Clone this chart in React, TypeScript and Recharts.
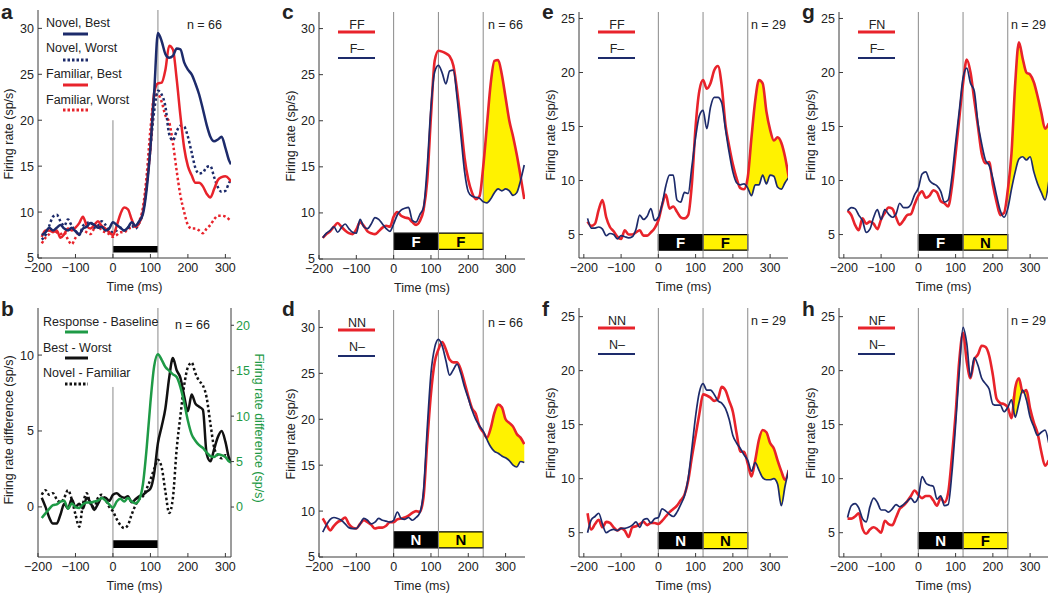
import React from "react";
import {
  ComposedChart, Line, Area,
  XAxis, YAxis, ReferenceLine, ReferenceArea,
} from "recharts";

const RED = "#e8232b";
const NAVY = "#1d2b6b";
const GREEN = "#1e9a46";
const YELLOW = "#fff200";
const GRAY = "#8a8a8a";
const AXIS = "#3a3a3a";
const TEXT = "#222";
const FONT = '"Liberation Sans", Arial, Helvetica, sans-serif';
const FS = 12.5;

// time grids (ms)
const TIME_AB = [-190, -180, -170, -160, -150, -140, -130, -120, -110, -100, -90, -80, -70, -60, -50, -40, -30, -20, -10, 0, 10, 20, 30, 40, 50, 60, 70, 80, 90, 100, 110, 120, 130, 140, 150, 160, 170, 180, 190, 200, 210, 220, 230, 240, 250, 260, 270, 280, 290, 300, 310, 315];
const TIME_CH = [-190, -180, -170, -160, -150, -140, -130, -120, -110, -100, -90, -80, -70, -60, -50, -40, -30, -20, -10, 0, 10, 20, 30, 40, 50, 60, 70, 80, 90, 100, 110, 120, 130, 140, 150, 160, 170, 180, 190, 200, 210, 220, 230, 240, 250, 260, 270, 280, 290, 300, 310, 320, 330, 340, 350];
const X_TICKS = [-200, -100, 0, 100, 200, 300];

// panel a (sp/s)
const A_NOVEL_BEST = [7.5, 7.8, 8.3, 8.0, 8.3, 8.6, 8.2, 8.0, 8.3, 7.9, 7.6, 8.2, 8.4, 8.8, 8.6, 8.3, 8.4, 8.0, 8.2, 8.9, 8.6, 8.3, 8.0, 8.3, 8.9, 8.5, 9.0, 9.8, 12.5, 17.0, 23.0, 29.5, 28.6, 27.2, 26.8, 27.0, 27.8, 27.7, 26.3, 25.5, 25.0, 24.0, 22.8, 21.2, 19.5, 18.2, 17.7, 17.9, 18.2, 17.0, 15.6, 15.2];
const A_NOVEL_WORST = [7.0, 7.5, 8.5, 9.5, 9.7, 9.0, 8.5, 9.2, 8.5, 8.0, 7.5, 8.5, 8.8, 8.9, 8.3, 8.5, 9.0, 8.6, 8.0, 7.8, 8.0, 8.3, 8.0, 8.3, 8.5, 8.2, 8.8, 10.0, 13.0, 17.0, 21.0, 23.2, 22.8, 21.5, 18.5, 17.8, 18.8, 19.4, 19.3, 18.2, 16.5, 14.8, 14.2, 14.3, 14.9, 15.0, 13.8, 12.7, 12.2, 12.3, 13.2, 13.5];
const A_FAM_BEST = [7.3, 8.0, 8.0, 7.8, 8.0, 7.2, 7.6, 8.2, 8.0, 8.3, 8.8, 9.5, 8.5, 8.2, 8.6, 9.0, 8.5, 8.2, 7.8, 7.5, 8.5, 9.8, 10.5, 10.3, 9.2, 8.4, 8.8, 10.0, 13.0, 17.0, 23.0, 24.0, 24.1, 25.5, 28.1, 27.7, 24.5, 20.5, 17.0, 15.0, 14.0, 13.2, 13.2, 12.8, 12.0, 11.6, 12.5, 13.5, 13.8, 13.9, 13.6, 13.3];
const A_FAM_WORST = [6.6, 7.2, 7.6, 8.0, 7.8, 7.6, 7.8, 7.0, 6.5, 7.2, 7.8, 8.0, 7.8, 7.6, 8.2, 8.5, 8.0, 7.8, 7.6, 7.3, 7.5, 7.8, 7.8, 8.2, 8.3, 8.5, 9.0, 10.5, 14.0, 19.0, 22.5, 22.8, 22.0, 20.5, 19.8, 17.5, 14.5, 11.8, 10.0, 8.6, 8.2, 8.2, 8.0, 7.7, 8.2, 8.6, 9.2, 9.6, 9.6, 9.5, 9.2, 9.0];

// panel b (differences, sp/s); response-baseline is on the right axis
const B_RESP = [-1.2, -0.7, -0.2, 0.2, 0.3, 0.6, 0.7, -0.2, 0.4, 0.0, -0.1, 0.3, 0.5, 0.5, 0.6, 0.7, 1.0, 0.7, 0.3, -0.1, 0.6, 0.9, 0.6, 1.0, 0.6, 0.4, 0.8, 2.5, 6.5, 11.5, 15.5, 16.8, 16.2, 15.4, 15.0, 14.6, 14.3, 13.2, 11.5, 9.5, 8.0, 7.3, 6.8, 6.5, 6.0, 5.6, 5.5, 5.8, 5.7, 5.5, 5.0, 4.9];
const B_BEST_WORST = [0.6, 0.0, -0.7, -1.1, -1.1, -0.5, 0.2, -0.1, 0.5, 0.0, 0.2, -0.1, 0.6, 0.3, -0.2, 0.2, 0.6, 0.6, 0.4, 0.8, 0.9, 0.7, 0.6, 0.7, 0.3, 0.5, 0.7, 0.8, 1.0, 1.2, 2.2, 4.2, 5.3, 6.5, 8.5, 9.8, 9.0, 8.5, 7.3, 6.3, 7.4, 6.8, 6.6, 6.4, 3.5, 3.0, 3.8, 4.6, 5.0, 4.3, 3.2, 3.0];
const B_NOV_FAM = [0.8, 1.1, 0.8, 0.9, 0.5, 0.3, 0.6, 1.1, 0.5, -0.5, -1.3, 0.2, 0.9, 0.2, 0.0, 0.6, 0.8, 0.5, 0.0, -0.3, -0.8, -1.2, -1.4, -1.2, -0.5, 0.1, 0.5, 0.7, 1.2, 1.8, 2.5, 3.1, 2.6, 1.0, -0.4, 0.6, 3.8, 6.0, 8.0, 9.2, 9.5, 8.8, 8.3, 8.0, 7.2, 5.5, 3.9, 3.4, 3.2, 3.4, 3.2, 3.1];

// panels c-h: red = two-stimulus trace, navy = single-stimulus trace
const C_RED = [7.3, 7.7, 8.0, 8.5, 8.9, 8.5, 8.1, 7.8, 7.7, 8.2, 9.0, 8.6, 8.0, 7.8, 7.7, 8.0, 8.4, 8.6, 8.5, 9.6, 10.1, 9.7, 9.5, 9.4, 9.0, 8.7, 9.1, 10.3, 13.5, 20.5, 26.5, 27.6, 27.5, 27.3, 27.0, 26.0, 23.3, 19.8, 16.0, 13.6, 12.2, 11.5, 11.8, 15.0, 19.5, 24.0, 26.5, 26.6, 25.0, 22.5, 20.0, 18.3, 16.3, 14.0, 11.5];
const C_NAVY = [7.3, 7.8, 8.1, 8.5, 7.9, 8.4, 8.8, 8.3, 7.9, 7.8, 9.3, 8.5, 8.3, 8.8, 9.5, 9.3, 8.8, 8.3, 8.0, 8.8, 9.8, 10.3, 10.5, 10.6, 9.2, 9.0, 9.8, 10.6, 15.0, 21.5, 25.3, 26.0, 25.2, 24.0, 25.4, 25.5, 22.5, 18.5, 14.5, 12.3, 11.8, 11.7, 11.6, 11.2, 11.1, 11.5, 12.2, 12.6, 12.4, 12.6, 12.4, 11.9, 12.2, 13.5, 15.2];
const D_RED = [9.2, 8.5, 7.9, 8.4, 8.8, 9.0, 9.3, 8.6, 8.2, 8.1, 8.6, 9.0, 8.8, 8.5, 8.1, 8.2, 8.2, 8.4, 8.8, 8.8, 9.1, 9.2, 9.3, 9.5, 9.8, 10.0, 9.9, 11.5, 17.5, 22.8, 26.2, 27.6, 28.4, 27.6, 26.5, 26.2, 26.2, 25.4, 24.0, 22.5, 21.2, 20.6, 19.2, 18.6, 18.0, 19.0, 20.7, 21.6, 21.3, 20.0, 19.6, 19.2, 18.4, 18.0, 17.3];
const D_NAVY = [7.7, 8.5, 9.1, 9.3, 9.2, 9.0, 8.6, 8.2, 8.1, 8.1, 8.6, 9.2, 9.0, 8.6, 8.8, 9.2, 9.0, 8.9, 8.8, 9.0, 9.9, 9.2, 9.1, 9.3, 9.0, 9.3, 9.8, 12.2, 19.0, 25.0, 27.8, 28.7, 28.0, 26.4, 24.8, 25.4, 26.0, 25.0, 23.5, 22.3, 21.0, 20.0, 19.3, 18.7, 17.8, 17.0, 16.5, 16.3, 16.0, 15.8, 15.5, 15.0, 14.8, 15.4, 15.3];
const E_RED = [6.2, 5.8, 6.0, 7.3, 8.2, 6.6, 5.7, 5.3, 4.8, 4.6, 5.4, 5.0, 5.0, 5.2, 5.4, 4.9, 4.9, 5.2, 5.6, 6.3, 7.7, 8.7, 7.4, 7.6, 7.1, 6.6, 6.5, 6.8, 9.7, 15.0, 18.3, 19.3, 18.5, 19.0, 20.2, 20.6, 18.8, 15.2, 13.2, 11.5, 10.2, 9.3, 9.2, 10.3, 14.0, 17.4, 19.3, 19.0, 16.4, 14.7, 13.7, 14.0, 13.5, 12.2, 10.3];
const E_NAVY = [6.5, 5.6, 5.6, 5.7, 5.5, 4.9, 5.1, 5.0, 4.6, 4.9, 4.8, 4.7, 4.8, 5.5, 6.8, 6.4, 6.7, 7.4, 6.3, 6.6, 7.8, 9.5, 10.5, 10.5, 8.2, 8.0, 8.9, 8.8, 11.3, 14.0, 16.0, 16.5, 14.8, 16.8, 17.7, 17.7, 17.2, 14.8, 12.6, 10.8, 9.8, 9.6, 9.7, 9.3, 8.6, 9.6, 9.6, 10.5, 9.7, 10.5, 10.4, 9.4, 9.2, 9.8, 10.3];
const F_RED = [6.8, 5.3, 5.8, 6.2, 5.5, 6.0, 5.9, 5.5, 5.2, 5.4, 5.2, 4.6, 5.5, 5.6, 5.8, 6.0, 5.7, 5.9, 5.9, 5.8, 6.1, 6.5, 6.9, 7.2, 7.5, 8.0, 8.5, 9.8, 12.0, 14.0, 16.0, 17.8, 17.7, 17.5, 17.2, 17.4, 18.5, 18.2, 17.2, 16.2, 14.2, 12.5, 12.5, 11.4, 10.2, 11.7, 13.6, 14.5, 14.3, 13.3, 12.8, 11.7, 10.7, 9.9, 10.8];
const F_NAVY = [5.0, 6.2, 6.5, 6.8, 5.8, 5.0, 5.2, 5.3, 5.2, 5.4, 5.4, 5.5, 5.7, 6.0, 5.5, 6.2, 6.3, 5.9, 6.3, 6.4, 7.2, 7.0, 6.7, 6.5, 6.9, 7.6, 8.4, 10.0, 12.8, 15.8, 18.0, 18.8, 18.2, 18.2, 17.8, 17.2, 17.0, 16.5, 15.5, 14.0, 13.3, 12.8, 12.2, 11.7, 10.7, 11.5, 10.8, 10.1, 9.9, 9.9, 10.0, 9.5, 7.5, 9.3, 10.8];
const G_RED = [7.2, 6.8, 5.9, 5.4, 6.5, 6.0, 6.2, 6.0, 5.5, 6.4, 7.0, 7.5, 7.4, 6.6, 5.9, 6.3, 6.8, 6.9, 7.8, 8.6, 9.0, 8.4, 8.6, 9.1, 8.9, 8.1, 7.9, 7.6, 9.4, 12.5, 15.8, 19.0, 21.2, 20.0, 17.5, 15.0, 12.5, 11.6, 11.7, 9.6, 8.0, 6.8, 7.0, 9.1, 12.5, 19.0, 22.8, 21.3, 20.0, 19.8, 19.1, 17.8, 16.3, 14.8, 15.3];
const G_NAVY = [7.2, 7.5, 7.4, 6.8, 6.3, 5.2, 5.5, 6.6, 7.3, 6.4, 7.3, 6.9, 6.6, 6.9, 7.9, 7.5, 7.5, 7.8, 8.7, 9.3, 10.6, 10.8, 10.0, 9.7, 9.5, 9.0, 8.0, 8.2, 10.3, 13.5, 16.5, 19.5, 20.4, 19.0, 18.3, 15.3, 13.4, 11.9, 11.4, 10.2, 8.6, 7.2, 6.6, 7.4, 9.2, 10.8, 12.0, 12.2, 11.9, 12.2, 10.8, 9.7, 8.9, 8.2, 9.9];
const H_RED = [6.3, 6.3, 6.5, 6.8, 5.4, 4.9, 5.3, 5.5, 5.3, 5.0, 6.1, 5.8, 5.7, 6.4, 7.2, 7.5, 7.9, 8.4, 8.9, 8.5, 8.2, 8.4, 8.4, 8.0, 7.5, 8.2, 7.8, 8.7, 12.0, 16.0, 21.0, 23.5, 20.8, 19.3, 21.0, 21.5, 22.3, 22.2, 21.4, 19.6, 17.4, 17.0, 16.9, 16.6, 15.6, 18.4, 19.3, 18.0, 18.2, 16.5, 15.2, 14.2, 12.5, 11.2, 11.7];
const H_NAVY = [6.4, 7.5, 7.7, 7.3, 6.3, 6.0, 7.4, 8.2, 7.8, 7.1, 7.1, 6.9, 7.2, 7.6, 7.4, 7.6, 7.9, 8.2, 7.8, 8.3, 10.2, 9.6, 9.4, 9.3, 8.1, 8.4, 7.5, 7.6, 10.5, 15.0, 20.0, 24.0, 22.5, 19.4, 21.2, 20.5, 19.3, 18.8, 18.3, 16.9, 16.8, 16.8, 16.2, 16.6, 17.3, 15.7, 17.0, 18.2, 17.3, 15.7, 14.8, 14.0, 14.3, 14.5, 13.3];

function fmtTick(v: number) {
  return v < 0 ? `\u2212${-v}` : `${v}`;
}

const xAxisCommon = {
  dataKey: "t",
  type: "number" as const,
  ticks: X_TICKS,
  interval: 0 as const,
  allowDataOverflow: true,
  tickFormatter: fmtTick,
  height: 37,
  stroke: AXIS,
  tickSize: -4,
  tickMargin: 9,
  tick: { fill: TEXT, fontSize: FS },
  label: { value: "Time (ms)", position: "insideBottom" as const, offset: 4, fill: TEXT, fontSize: FS },
};

function Txt({ x, y, children, size = FS, color = TEXT, anchor = "start", bold = false, rot = 0 }: {
  x: number; y: number; children: React.ReactNode; size?: number; color?: string;
  anchor?: "start" | "middle" | "end"; bold?: boolean; rot?: number;
}) {
  const tx = anchor === "start" ? "0" : anchor === "middle" ? "-50%" : "-100%";
  return (
    <div style={{
      position: "absolute", left: x, top: y, whiteSpace: "nowrap", lineHeight: 1,
      fontSize: size, color, fontWeight: bold ? 700 : 400,
      transform: `translate(${tx}, -50%) rotate(${rot}deg)`,
    }}>
      {children}
    </div>
  );
}

function Swatch({ x1, x2, y, color, width, dash }: {
  x1: number; x2: number; y: number; color: string; width: number; dash?: string;
}) {
  return (
    <svg style={{ position: "absolute", left: x1, top: y - 3, overflow: "visible" }} width={x2 - x1} height={6}>
      <line x1={0} y1={3} x2={x2 - x1} y2={3} stroke={color} strokeWidth={width} strokeDasharray={dash} />
    </svg>
  );
}

function PanelA() {
  const rows = TIME_AB.map((t, i) => ({
    t,
    nb: A_NOVEL_BEST[i], nw: A_NOVEL_WORST[i],
    fb: A_FAM_BEST[i], fw: A_FAM_WORST[i],
  }));
  return (
    <div style={{ position: "absolute", left: 0, top: 0 }}>
      <ComposedChart width={247} height={295} data={rows} margin={{ top: 10, right: 16, bottom: 0, left: 0 }}>
        <XAxis {...xAxisCommon} domain={[-200, 315]} />
        <YAxis type="number" domain={[5, 32]} ticks={[5, 10, 15, 20, 25, 30]} interval={0} allowDataOverflow
          width={38} stroke={AXIS} tickSize={-4} tickMargin={8} tick={{ fill: TEXT, fontSize: FS }} />
        <ReferenceLine segment={[{ x: 0, y: 5 }, { x: 0, y: 20 }]} stroke={GRAY} />
        <ReferenceLine x={120} stroke={GRAY} />
        <ReferenceArea x1={0} x2={120} y1={5.6} y2={6.3} fill="#000" fillOpacity={1} stroke="none" />
        <Line dataKey="fw" type="monotone" stroke={RED} strokeWidth={2.5} strokeDasharray="2.5 2.5" dot={false} activeDot={false} isAnimationActive={false} />
        <Line dataKey="nw" type="monotone" stroke={NAVY} strokeWidth={2.5} strokeDasharray="2.5 2.5" dot={false} activeDot={false} isAnimationActive={false} />
        <Line dataKey="fb" type="monotone" stroke={RED} strokeWidth={2.5} dot={false} activeDot={false} isAnimationActive={false} />
        <Line dataKey="nb" type="monotone" stroke={NAVY} strokeWidth={2.5} dot={false} activeDot={false} isAnimationActive={false} />
      </ComposedChart>
    </div>
  );
}

function PanelB() {
  const rows = TIME_AB.map((t, i) => ({
    t, resp: B_RESP[i], bw: B_BEST_WORST[i], nf: B_NOV_FAM[i],
  }));
  return (
    <div style={{ position: "absolute", left: 0, top: 298 }}>
      <ComposedChart width={271} height={296} data={rows} margin={{ top: 10, right: 0, bottom: 0, left: 0 }}>
        <XAxis {...xAxisCommon} domain={[-200, 315]} />
        <YAxis yAxisId="left" type="number" domain={[-3.3, 13.1]} ticks={[0, 5, 10]} interval={0} allowDataOverflow
          width={38} stroke={AXIS} tickSize={-4} tickMargin={8} tick={{ fill: TEXT, fontSize: FS }} />
        <YAxis yAxisId="right" orientation="right" type="number" domain={[-5.5, 21.9]} ticks={[0, 5, 10, 15, 20]} interval={0} allowDataOverflow
          width={40} stroke={AXIS} tickSize={3} tickMargin={2} tick={{ fill: GREEN, fontSize: FS }} />
        <ReferenceLine yAxisId="left" segment={[{ x: 0, y: -3.3 }, { x: 0, y: 7.9 }]} stroke={GRAY} />
        <ReferenceLine yAxisId="left" x={120} stroke={GRAY} />
        <ReferenceArea yAxisId="left" x1={0} x2={120} y1={-2.7} y2={-2.2} fill="#000" fillOpacity={1} stroke="none" />
        <Line yAxisId="left" dataKey="nf" type="monotone" stroke="#111" strokeWidth={2.5} strokeDasharray="2.5 2.5" dot={false} activeDot={false} isAnimationActive={false} />
        <Line yAxisId="left" dataKey="bw" type="monotone" stroke="#111" strokeWidth={2.5} dot={false} activeDot={false} isAnimationActive={false} />
        <Line yAxisId="right" dataKey="resp" type="monotone" stroke={GREEN} strokeWidth={2.5} dot={false} activeDot={false} isAnimationActive={false} />
      </ComposedChart>
    </div>
  );
}

type PairProps = {
  left: number; top: number; width: number; height: number; padTop: number;
  xDomain: [number, number]; yDomain: [number, number]; yTicks: number[];
  red: number[]; navy: number[]; bar: [number, number];
  first: string; second: string; redName: string; navyName: string;
  n: string; letter: string; letterTop: number;
};

function PairPanel(p: PairProps) {
  const rows = TIME_CH.map((t, i) => ({
    t,
    red: p.red[i],
    navy: p.navy[i],
    gap: t >= 240 ? [p.navy[i], Math.max(p.red[i], p.navy[i])] : null,
  }));
  const plotBottom = p.height - 37;
  return (
    <div style={{ position: "absolute", left: p.left, top: p.top, width: p.width, height: p.height }}>
      <ComposedChart width={p.width} height={p.height} data={rows} margin={{ top: p.padTop, right: 0, bottom: 0, left: 0 }}>
        <XAxis {...xAxisCommon} domain={p.xDomain} />
        <YAxis type="number" domain={p.yDomain} ticks={p.yTicks} interval={0} allowDataOverflow
          width={38} stroke={AXIS} tickSize={-4} tickMargin={8} tick={{ fill: TEXT, fontSize: FS }} />
        <ReferenceLine x={0} stroke={GRAY} />
        <ReferenceLine x={120} stroke={GRAY} />
        <ReferenceLine x={240} stroke={GRAY} />
        <ReferenceArea x1={0} x2={120} y1={p.bar[0]} y2={p.bar[1]} fill="#000" fillOpacity={1} stroke="#000" strokeWidth={1.2}
          label={{ value: p.first, position: "center", fill: "#fff", fontSize: 15, fontWeight: 700 }} />
        <ReferenceArea x1={120} x2={240} y1={p.bar[0]} y2={p.bar[1]} fill={YELLOW} fillOpacity={1} stroke="#000" strokeWidth={1.2}
          label={{ value: p.second, position: "center", fill: "#000", fontSize: 15, fontWeight: 700 }} />
        <Area dataKey="gap" type="monotone" fill={YELLOW} fillOpacity={1} stroke="none" dot={false} activeDot={false} isAnimationActive={false} />
        <Line dataKey="red" type="monotone" stroke={RED} strokeWidth={2.6} dot={false} activeDot={false} isAnimationActive={false} />
        <Line dataKey="navy" type="monotone" stroke={NAVY} strokeWidth={1.7} dot={false} activeDot={false} isAnimationActive={false} />
      </ComposedChart>
      <Txt x={76} y={p.padTop + 13} anchor="middle">{p.redName}</Txt>
      <Swatch x1={57} x2={94} y={p.padTop + 20} color={RED} width={3} />
      <Txt x={76} y={p.padTop + 37} anchor="middle">{p.navyName}</Txt>
      <Swatch x1={57} x2={94} y={p.padTop + 46} color={NAVY} width={2} />
      <Txt x={p.width - 2} y={p.padTop + 13} anchor="end">{p.n}</Txt>
      <Txt x={10} y={(p.padTop + plotBottom) / 2} anchor="middle" rot={-90}>Firing rate (sp/s)</Txt>
      <Txt x={1} y={p.letterTop} size={21} bold>{p.letter}</Txt>
    </div>
  );
}

export default function App() {
  return (
    <div style={{
      position: "absolute", left: 0, top: 0, width: 1050, height: 595,
      background: "#fff", fontFamily: FONT, color: TEXT, overflow: "hidden",
    }}>
      <PanelA />
      <PanelB />

      {/* panel a overlays */}
      <Txt x={1} y={11} size={21} bold>a</Txt>
      <Txt x={46} y={23}>Novel, Best</Txt>
      <Swatch x1={63} x2={88} y={34} color={NAVY} width={3} />
      <Txt x={46} y={48}>Novel, Worst</Txt>
      <Swatch x1={63} x2={88} y={60} color={NAVY} width={3} dash="2.5 2" />
      <Txt x={46} y={74}>Familiar, Best</Txt>
      <Swatch x1={63} x2={88} y={85} color={RED} width={3} />
      <Txt x={46} y={100}>Familiar, Worst</Txt>
      <Swatch x1={63} x2={88} y={110} color={RED} width={3} dash="2.5 2" />
      <Txt x={222} y={25} anchor="end">n = 66</Txt>
      <Txt x={9} y={134} anchor="middle" rot={-90}>Firing rate (sp/s)</Txt>

      {/* panel b overlays */}
      <Txt x={1} y={308} size={21} bold>b</Txt>
      <Txt x={43} y={322}>Response - Baseline</Txt>
      <Swatch x1={65} x2={88} y={332} color={GREEN} width={3} />
      <Txt x={43} y={348}>Best - Worst</Txt>
      <Swatch x1={65} x2={88} y={358} color="#111" width={3} />
      <Txt x={43} y={373}>Novel - Familiar</Txt>
      <Swatch x1={65} x2={88} y={384} color="#111" width={3} dash="2.5 2" />
      <Txt x={210} y={325} anchor="end">n = 66</Txt>
      <Txt x={9} y={430} anchor="middle" rot={-90}>Firing rate difference (sp/s)</Txt>
      <Txt x={259} y={428} anchor="middle" rot={90} color={GREEN}>Firing rate difference (sp/s)</Txt>

      <PairPanel left={281} top={0} width={244} height={296} padTop={12}
        xDomain={[-200, 352]} yDomain={[5, 31.8]} yTicks={[5, 10, 15, 20, 25, 30]}
        red={C_RED} navy={C_NAVY} bar={[6.05, 7.8]} first="F" second="F"
        redName="FF" navyName={"F\u2013"} n="n = 66" letter="c" letterTop={11} />
      <PairPanel left={281} top={298} width={244} height={296} padTop={12}
        xDomain={[-200, 352]} yDomain={[5, 31.9]} yTicks={[5, 10, 15, 20, 25, 30]}
        red={D_RED} navy={D_NAVY} bar={[6.0, 7.74]} first="N" second="N"
        redName="NN" navyName={"N\u2013"} n="n = 66" letter="d" letterTop={10} />
      <PairPanel left={541} top={0} width={247} height={295} padTop={12}
        xDomain={[-213, 348]} yDomain={[2.83, 25.6]} yTicks={[5, 10, 15, 20, 25]}
        red={E_RED} navy={E_NAVY} bar={[3.55, 5.0]} first="F" second="F"
        redName="FF" navyName={"F\u2013"} n="n = 29" letter="e" letterTop={11} />
      <PairPanel left={541} top={298} width={247} height={296} padTop={10}
        xDomain={[-213, 348]} yDomain={[2.75, 25.8]} yTicks={[5, 10, 15, 20, 25]}
        red={F_RED} navy={F_NAVY} bar={[3.52, 5.0]} first="N" second="N"
        redName="NN" navyName={"N\u2013"} n="n = 29" letter="f" letterTop={10} />
      <PairPanel left={801} top={0} width={247} height={295} padTop={12}
        xDomain={[-213, 348]} yDomain={[2.83, 25.6]} yTicks={[5, 10, 15, 20, 25]}
        red={G_RED} navy={G_NAVY} bar={[3.55, 5.0]} first="F" second="N"
        redName="FN" navyName={"F\u2013"} n="n = 29" letter="g" letterTop={11} />
      <PairPanel left={801} top={298} width={247} height={296} padTop={10}
        xDomain={[-213, 348]} yDomain={[2.75, 25.8]} yTicks={[5, 10, 15, 20, 25]}
        red={H_RED} navy={H_NAVY} bar={[3.52, 5.0]} first="N" second="F"
        redName="NF" navyName={"N\u2013"} n="n = 29" letter="h" letterTop={10} />
    </div>
  );
}
